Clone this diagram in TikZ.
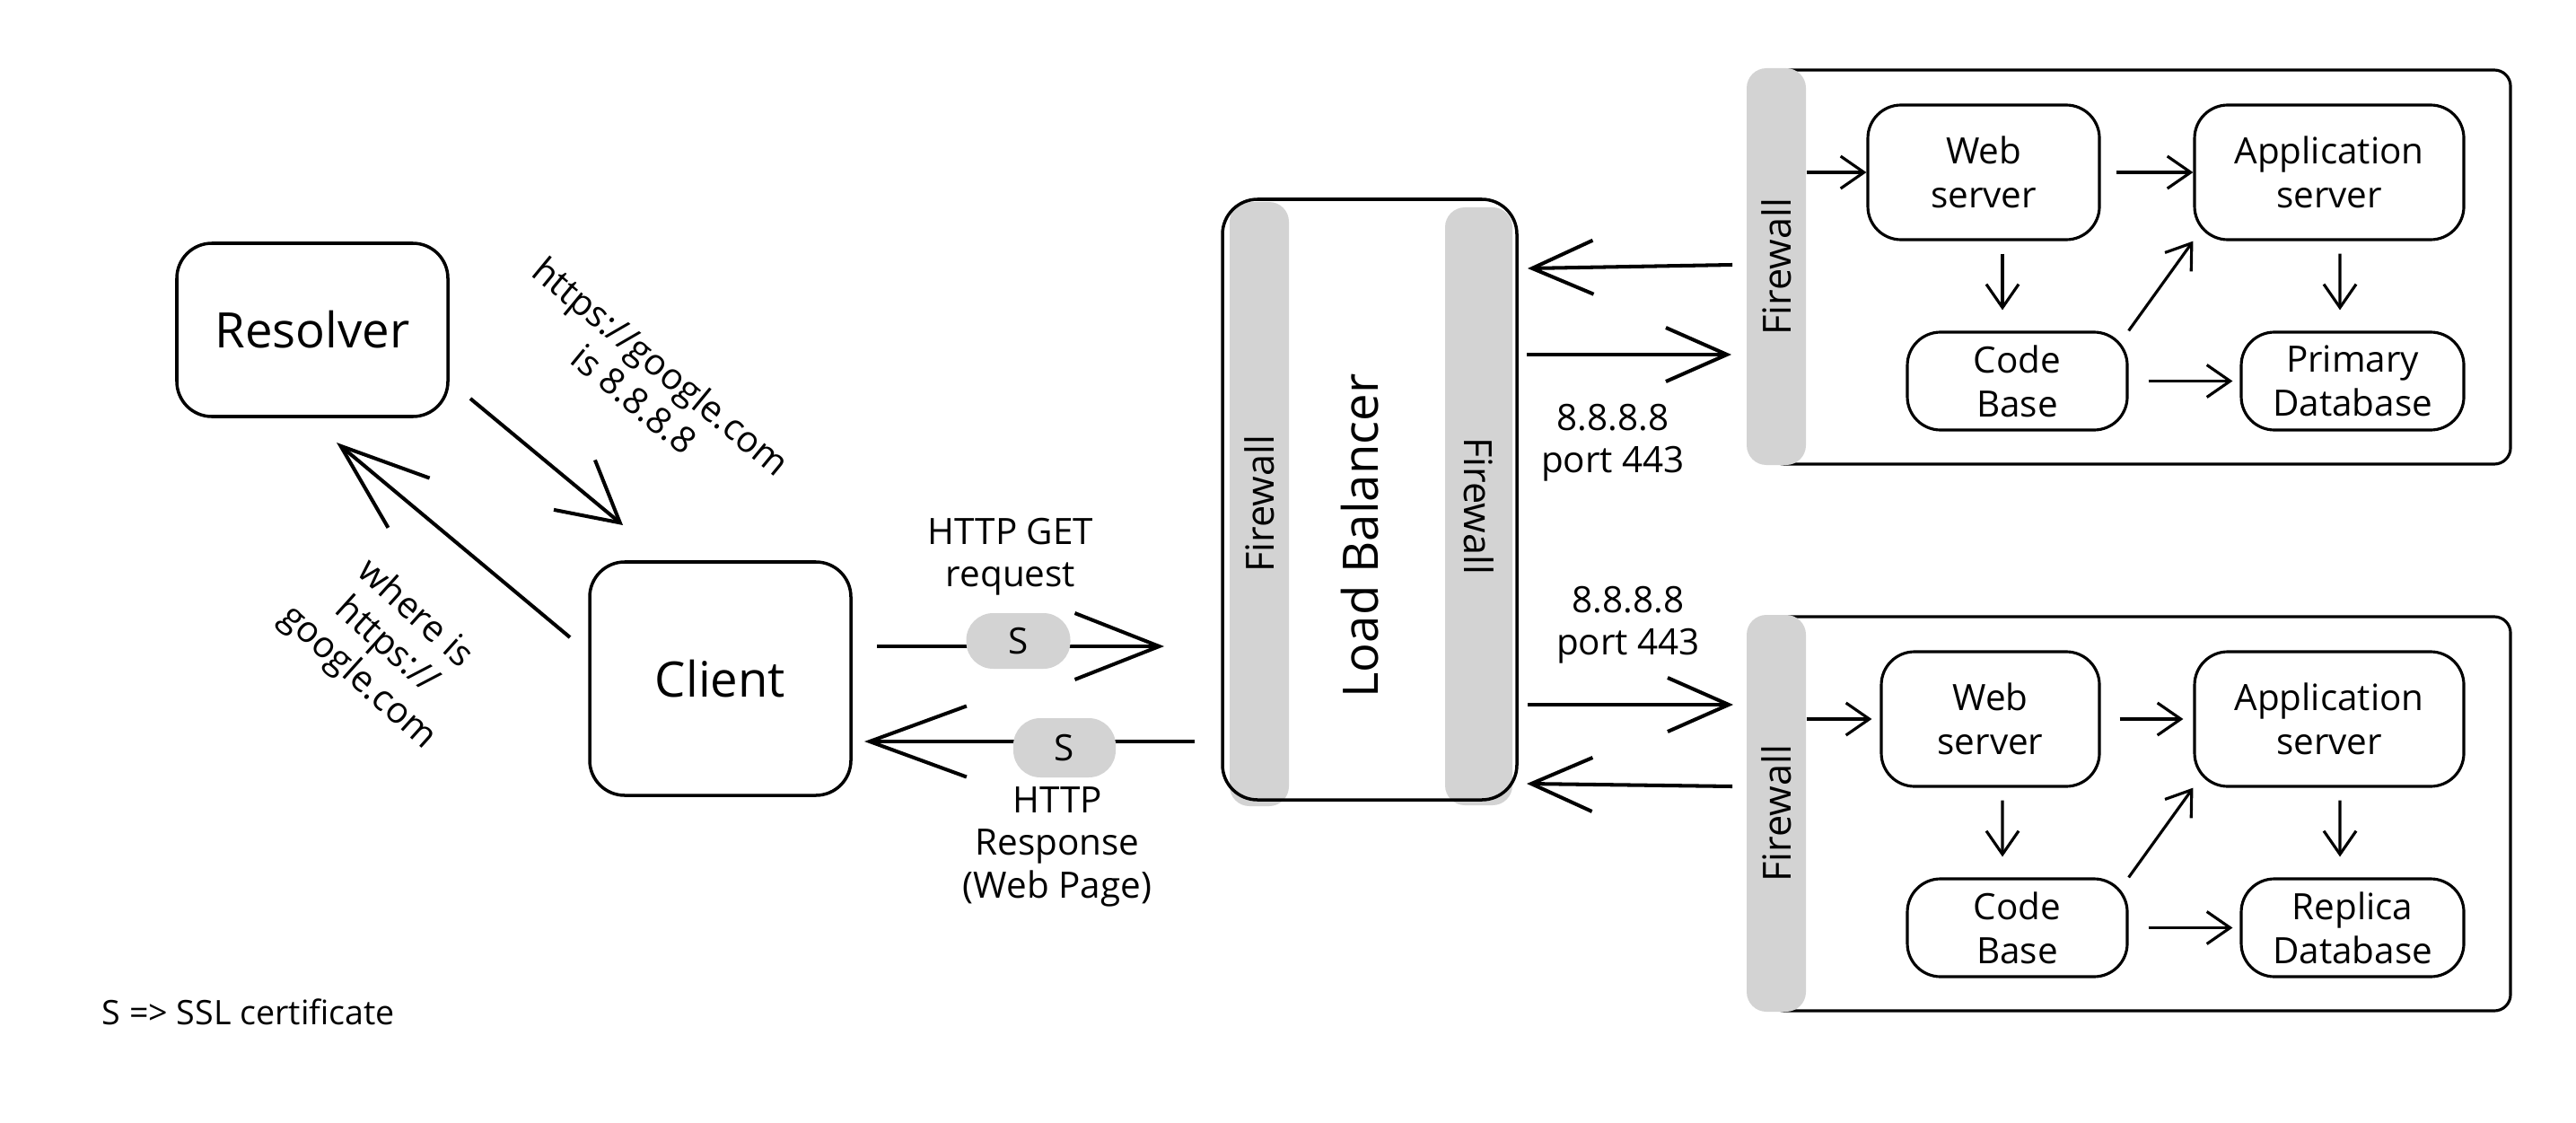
\documentclass[tikz,border=0pt]{standalone}
\usepackage{fontspec}
\setmainfont{Open Sans}
\usetikzlibrary{arrows.meta}
\definecolor{fwgray}{RGB}{211,211,211}
\newcommand{\bigfont}{\fontsize{15.5}{18}\selectfont}
\newcommand{\midfont}{\fontsize{11.5}{13.5}\selectfont}

\begin{document}
\begin{tikzpicture}[
 box/.style={rectangle,draw,line width=1pt,rounded corners=3.9mm,font=\bigfont},
 inbox/.style={rectangle,draw,line width=0.9pt,rounded corners=3.7mm,inner sep=1pt,align=center,font=\fontsize{11.5}{14}\selectfont},
 fwstrip/.style={rectangle,fill=fwgray,rounded corners=2.2mm,inner sep=0pt,minimum height=0.66cm,font=\fontsize{12.3}{14}\selectfont},
 pill/.style={rectangle,fill=fwgray,rounded corners=3mm,inner sep=0pt,minimum width=1.16cm,minimum height=0.62cm,font=\midfont},
 lbl/.style={align=center,inner sep=0pt,font=\midfont},
 arr/.style 2 args={line width=1.15pt,-{Straight Barb[length=#1,width=#2]}},
 smallarr/.style={line width=0.9pt,-{Straight Barb[length=2.6mm,width=3.6mm]}}
]
\useasboundingbox (0,0) rectangle (28.7,-12.5);

 \node at (3.48,-3.675) [box,minimum width=3.02cm,minimum height=1.93cm] (res) {Resolver};
 \node at (8.025,-7.56) [box,minimum width=2.91cm,minimum height=2.6cm] (cli) {Client};

 \node at (7.22,-4.26) [lbl,rotate=-39.5] (ans) {https://google.com\\is 8.8.8.8};
 \node at (4.30,-7.20) [lbl,rotate=-42] (ask) {where is\\https://\\google.com};

 \coordinate (r1) at (5.24,-4.44);
 \coordinate (c1) at (6.94,-5.85);
 \coordinate (c2) at (6.35,-7.10);
 \coordinate (r2) at (3.75,-4.93);
 \draw[arr={6.6mm}{7.2mm}] (r1)--(c1);
 \draw[arr={9.9mm}{7.2mm}] (c2)--(r2);

% load balancer
 \node at (14.03,-5.615) [fwstrip,minimum width=6.73cm,rotate=90] (fwl) {Firewall};
 \node at (16.475,-5.64) [fwstrip,minimum width=6.66cm,minimum height=0.75cm,rotate=-90] (fwr) {Firewall};
 \node at (15.26,-5.565) [box,minimum width=3.28cm,minimum height=6.69cm] (lb) {};
 \node at (15.15,-5.97) [rotate=90,font=\bigfont] (lbt) {Load Balancer};

 \coordinate (c3) at (9.77,-7.20);
 \coordinate (l1) at (12.97,-7.20);
 \coordinate (l2) at (13.31,-8.26);
 \coordinate (c4) at (9.63,-8.26);
 \draw[arr={9.4mm}{7.4mm}] (c3)--(l1);
 \draw[arr={10.8mm}{7.9mm}] (l2)--(c4);
 \node at (11.345,-7.14) [pill] (s1) {S};
 \node at (11.86,-8.33) [pill,minimum width=1.14cm,minimum height=0.66cm] (s2) {S};
 \node at (11.26,-6.20) [lbl] (get) {HTTP GET\\request};
 \node at (11.78,-9.43) [lbl] (resp) {HTTP\\Response\\(Web Page)};

 \coordinate (f1) at (19.30,-2.95);
 \coordinate (l3) at (17.02,-2.99);
 \coordinate (l4) at (17.01,-3.95);
 \coordinate (f2) at (19.29,-3.95);
 \coordinate (l5) at (17.02,-7.85);
 \coordinate (f3) at (19.31,-7.85);
 \coordinate (f4) at (19.30,-8.76);
 \coordinate (l6) at (17.01,-8.73);
 \draw[arr={6.8mm}{6mm}] (f1)--(l3);
 \draw[arr={6.8mm}{6mm}] (l4)--(f2);
 \draw[arr={6.8mm}{6mm}] (l5)--(f3);
 \draw[arr={6.8mm}{6mm}] (f4)--(l6);
 \node at (17.97,-4.93) [lbl] (ip1) {8.8.8.8\\port 443};
 \node at (18.14,-6.96) [lbl] (ip2) {8.8.8.8\\port 443};

% upper servers
 \node at (23.835,-2.975) [rectangle,draw,line width=0.9pt,rounded corners=1.8mm,minimum width=8.27cm,minimum height=4.39cm] (sv1) {};
 \node at (19.79,-2.97) [fwstrip,minimum width=4.42cm,rotate=90] (fw1) {Firewall};
 \node at (22.10,-1.92) [inbox,minimum width=2.58cm,minimum height=1.5cm] (ws1) {Web\\server};
 \node at (25.95,-1.92) [inbox,minimum width=3.0cm,minimum height=1.5cm] (as1) {Application\\server};
 \node at (22.475,-4.245) [inbox,minimum width=2.45cm,minimum height=1.09cm] (cb1) {Code\\Base};
 \node at (26.21,-4.245) [inbox,minimum width=2.48cm,minimum height=1.09cm] (db1) {Primary\\Database};
 \draw[smallarr] (fw1.south |- ws1.west)--(ws1.west);
 \draw[smallarr,shorten <=1.7mm] (ws1.east)--(as1.west);
 \draw[smallarr,shorten <=1.4mm,shorten >=2.3mm] ([xshift=2.1mm]ws1.south)--([xshift=-1.65mm]cb1.north);
 \draw[smallarr] (cb1.north east)--(as1.south west);
 \draw[smallarr,shorten <=1.4mm,shorten >=2.3mm] ([xshift=1.2mm]as1.south)--([xshift=-1.4mm]db1.north);
 \draw[smallarr,shorten <=2.2mm,shorten >=0.8mm] (cb1.east)--(db1.west);

% lower servers
\begin{scope}[yshift=-6.09cm]
 \node at (23.835,-2.975) [rectangle,draw,line width=0.9pt,rounded corners=1.8mm,minimum width=8.27cm,minimum height=4.39cm] (sv2) {};
 \node at (19.79,-2.97) [fwstrip,minimum width=4.42cm,rotate=90] (fw2) {Firewall};
 \node at (22.175,-1.92) [inbox,minimum width=2.43cm,minimum height=1.5cm] (ws2) {Web\\server};
 \node at (25.95,-1.92) [inbox,minimum width=3.0cm,minimum height=1.5cm] (as2) {Application\\server};
 \node at (22.475,-4.245) [inbox,minimum width=2.45cm,minimum height=1.09cm] (cb2) {Code\\Base};
 \node at (26.21,-4.245) [inbox,minimum width=2.48cm,minimum height=1.09cm] (db2) {Replica\\Database};
 \draw[smallarr,shorten >=0.9mm] (fw2.south |- ws2.west)--(ws2.west);
 \draw[smallarr,shorten <=2.1mm,shorten >=1.1mm] (ws2.east)--(as2.west);
 \draw[smallarr,shorten <=1.4mm,shorten >=2.3mm] ([xshift=1.35mm]ws2.south)--([xshift=-1.65mm]cb2.north);
 \draw[smallarr] (cb2.north east)--(as2.south west);
 \draw[smallarr,shorten <=1.4mm,shorten >=2.3mm] ([xshift=1.2mm]as2.south)--([xshift=-1.4mm]db2.north);
 \draw[smallarr,shorten <=2.2mm,shorten >=0.8mm] (cb2.east)--(db2.west);
\end{scope}

 \node at (1.13,-11.27) [anchor=west,inner sep=0pt,font=\fontsize{10.7}{13}\selectfont] (key) {S => SSL certificate};
\end{tikzpicture}
\end{document}
